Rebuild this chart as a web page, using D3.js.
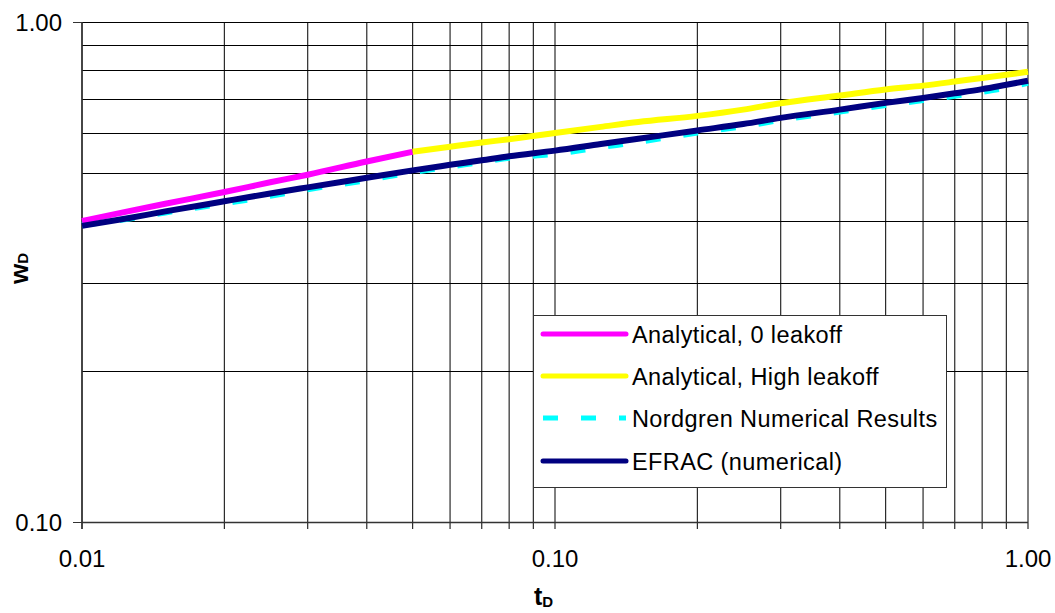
<!DOCTYPE html>
<html>
<head>
<meta charset="utf-8">
<script src="https://cdn.jsdelivr.net/npm/d3@7"></script>
<style>
  html, body { margin: 0; padding: 0; background: #fff; }
  svg { display: block; font-family: "Liberation Sans", Arial, sans-serif; }
</style>
</head>
<body>
<svg id="chart" width="1055" height="613"></svg>
<script>
// Dimensionless fracture width w_D versus dimensionless time t_D (log-log)

// Analytical solution, zero leakoff
const tZeroLeak = [0.01, 0.0125, 0.015, 0.02, 0.025, 0.03, 0.04, 0.05];
const wZeroLeak = [0.400, 0.418, 0.433, 0.457, 0.478, 0.495, 0.526, 0.550];

// Analytical solution, high leakoff
const tHighLeak = [0.05, 0.06, 0.07, 0.08, 0.1, 0.125, 0.15, 0.2, 0.25, 0.3, 0.4, 0.5, 0.6, 0.7, 0.8, 0.9, 1.0];
const wHighLeak = [0.550, 0.563, 0.574, 0.583, 0.600, 0.617, 0.631, 0.649, 0.668, 0.688, 0.713, 0.733, 0.746, 0.760, 0.773, 0.784, 0.795];

// Nordgren numerical results
const tNordgren = [0.01, 0.0125, 0.015, 0.02, 0.025, 0.03, 0.04, 0.05, 0.06, 0.07, 0.08, 0.1, 0.125, 0.15, 0.2, 0.25, 0.3, 0.4, 0.5, 0.6, 0.7, 0.8, 0.9, 1.0];
const wNordgren = [0.393, 0.404, 0.416, 0.434, 0.449, 0.463, 0.483, 0.501, 0.514, 0.525, 0.535, 0.545, 0.562, 0.576, 0.601, 0.619, 0.637, 0.662, 0.682, 0.698, 0.712, 0.725, 0.739, 0.756];

// EFRAC (numerical)
const tEfrac = [0.01, 0.0125, 0.015, 0.02, 0.025, 0.03, 0.04, 0.05, 0.06, 0.07, 0.08, 0.1, 0.125, 0.15, 0.2, 0.25, 0.3, 0.4, 0.5, 0.6, 0.7, 0.8, 0.9, 1.0];
const wEfrac = [0.391, 0.405, 0.418, 0.438, 0.454, 0.467, 0.488, 0.505, 0.518, 0.529, 0.539, 0.553, 0.570, 0.584, 0.607, 0.625, 0.643, 0.668, 0.689, 0.705, 0.720, 0.734, 0.749, 0.763];

// Axis ticks
const xMajorTicks = [0.01, 0.1, 1];
const xTickLabels = ["0.01", "0.10", "1.00"];
const yMajorTicks = [0.1, 1];
const yTickLabels = ["0.10", "1.00"];
const xGridValues = [0.01, 0.02, 0.03, 0.04, 0.05, 0.06, 0.07, 0.08, 0.09, 0.1, 0.2, 0.3, 0.4, 0.5, 0.6, 0.7, 0.8, 0.9, 1];
const yGridValues = [0.1, 0.2, 0.3, 0.4, 0.5, 0.6, 0.7, 0.8, 0.9, 1];

const seriesNames = ["Analytical, 0 leakoff", "Analytical, High leakoff", "Nordgren Numerical Results", "EFRAC (numerical)"];
const seriesColors = ["#ff00ff", "#ffff00", "#00ffff", "#000080"];

const svg = d3.select("#chart");
const plot = { left: 82, top: 22, right: 1028, bottom: 522 };

const x = d3.scaleLog().domain([0.01, 1]).range([plot.left, plot.right]);
const y = d3.scaleLog().domain([0.1, 1]).range([plot.bottom, plot.top]);

// Gridlines
const grid = svg.append("g");
grid.selectAll("line.v").data(xGridValues).join("line")
  .attr("x1", d => x(d)).attr("x2", d => x(d))
  .attr("y1", plot.top).attr("y2", plot.bottom + 7)
  .attr("stroke", "#2a2a2a").attr("stroke-width", 1.2);
grid.selectAll("line.h").data(yGridValues).join("line")
  .attr("x1", plot.left).attr("x2", plot.right)
  .attr("y1", d => Math.round(y(d)) + 0.5).attr("y2", d => Math.round(y(d)) + 0.5)
  .attr("stroke", "#000").attr("stroke-width", 1);

// Axis lines and major ticks on y
svg.append("line").attr("x1", plot.left).attr("x2", plot.left)
  .attr("y1", plot.top).attr("y2", plot.bottom + 7).attr("stroke", "#333").attr("stroke-width", 1.5);
svg.append("line").attr("x1", plot.left).attr("x2", plot.right)
  .attr("y1", plot.bottom + 0.5).attr("y2", plot.bottom + 0.5).attr("stroke", "#333").attr("stroke-width", 1.5);
svg.selectAll("line.ytick").data(yMajorTicks).join("line")
  .attr("x1", plot.left - 9).attr("x2", plot.left)
  .attr("y1", d => Math.round(y(d)) + 0.5).attr("y2", d => Math.round(y(d)) + 0.5)
  .attr("stroke", "#333").attr("stroke-width", 1);

// Tick labels
svg.selectAll("text.xl").data(xMajorTicks).join("text")
  .attr("x", d => x(d)).attr("y", plot.bottom + 45)
  .attr("text-anchor", "middle").attr("font-size", 24).attr("fill", "#000")
  .text((d, i) => xTickLabels[i]);
svg.selectAll("text.yl").data(yMajorTicks).join("text")
  .attr("x", 62).attr("y", d => y(d) + 8.5)
  .attr("text-anchor", "end").attr("font-size", 24).attr("fill", "#000")
  .text((d, i) => yTickLabels[i]);

// Axis titles
const xt = svg.append("text").attr("x", 534).attr("y", 605)
  .attr("font-size", 25).attr("font-weight", "bold");
xt.append("tspan").text("t");
xt.append("tspan").attr("font-size", 15).attr("dy", 2).text("D");

const yt = svg.append("text").attr("transform", "translate(28,284) rotate(-90)")
  .attr("font-size", 26).attr("font-weight", "bold");
yt.append("tspan").text("w");
yt.append("tspan").attr("font-size", 15).attr("dy", 0).text("D");

// Data curves
const line = d3.line().x(d => x(d[0])).y(d => y(d[1])).curve(d3.curveMonotoneX);
const curves = [
  { t: tZeroLeak, w: wZeroLeak, color: seriesColors[0], dash: null },
  { t: tHighLeak, w: wHighLeak, color: seriesColors[1], dash: null },
  { t: tNordgren, w: wNordgren, color: seriesColors[2], dash: "15,23" },
  { t: tEfrac, w: wEfrac, color: seriesColors[3], dash: null }
];
const drawOrder = [2, 0, 1, 3];
drawOrder.forEach(i => {
  const c = curves[i];
  svg.append("path")
    .datum(c.t.map((t, k) => [t, c.w[k]]))
    .attr("d", line)
    .attr("fill", "none")
    .attr("stroke", c.color)
    .attr("stroke-width", 6)
    .attr("stroke-linejoin", "round")
    .attr("stroke-dasharray", c.dash);
});

// Legend
const lg = svg.append("g");
lg.append("rect").attr("x", 533.5).attr("y", 315.5).attr("width", 413).attr("height", 172)
  .attr("fill", "#fff").attr("stroke", "#333").attr("stroke-width", 1);
const rowY = [334, 376, 418, 461];
seriesNames.forEach((name, i) => {
  lg.append("line")
    .attr("x1", 543).attr("x2", 626)
    .attr("y1", rowY[i]).attr("y2", rowY[i])
    .attr("stroke", seriesColors[i]).attr("stroke-width", 5)
    .attr("stroke-linecap", i === 2 ? "butt" : "round")
    .attr("stroke-dasharray", i === 2 ? "15,23" : null);
  lg.append("text").attr("x", 632).attr("y", rowY[i] + 8.5)
    .attr("font-size", 23.5).attr("letter-spacing", 0.4).attr("fill", "#000").text(name);
});
</script>
</body>
</html>
